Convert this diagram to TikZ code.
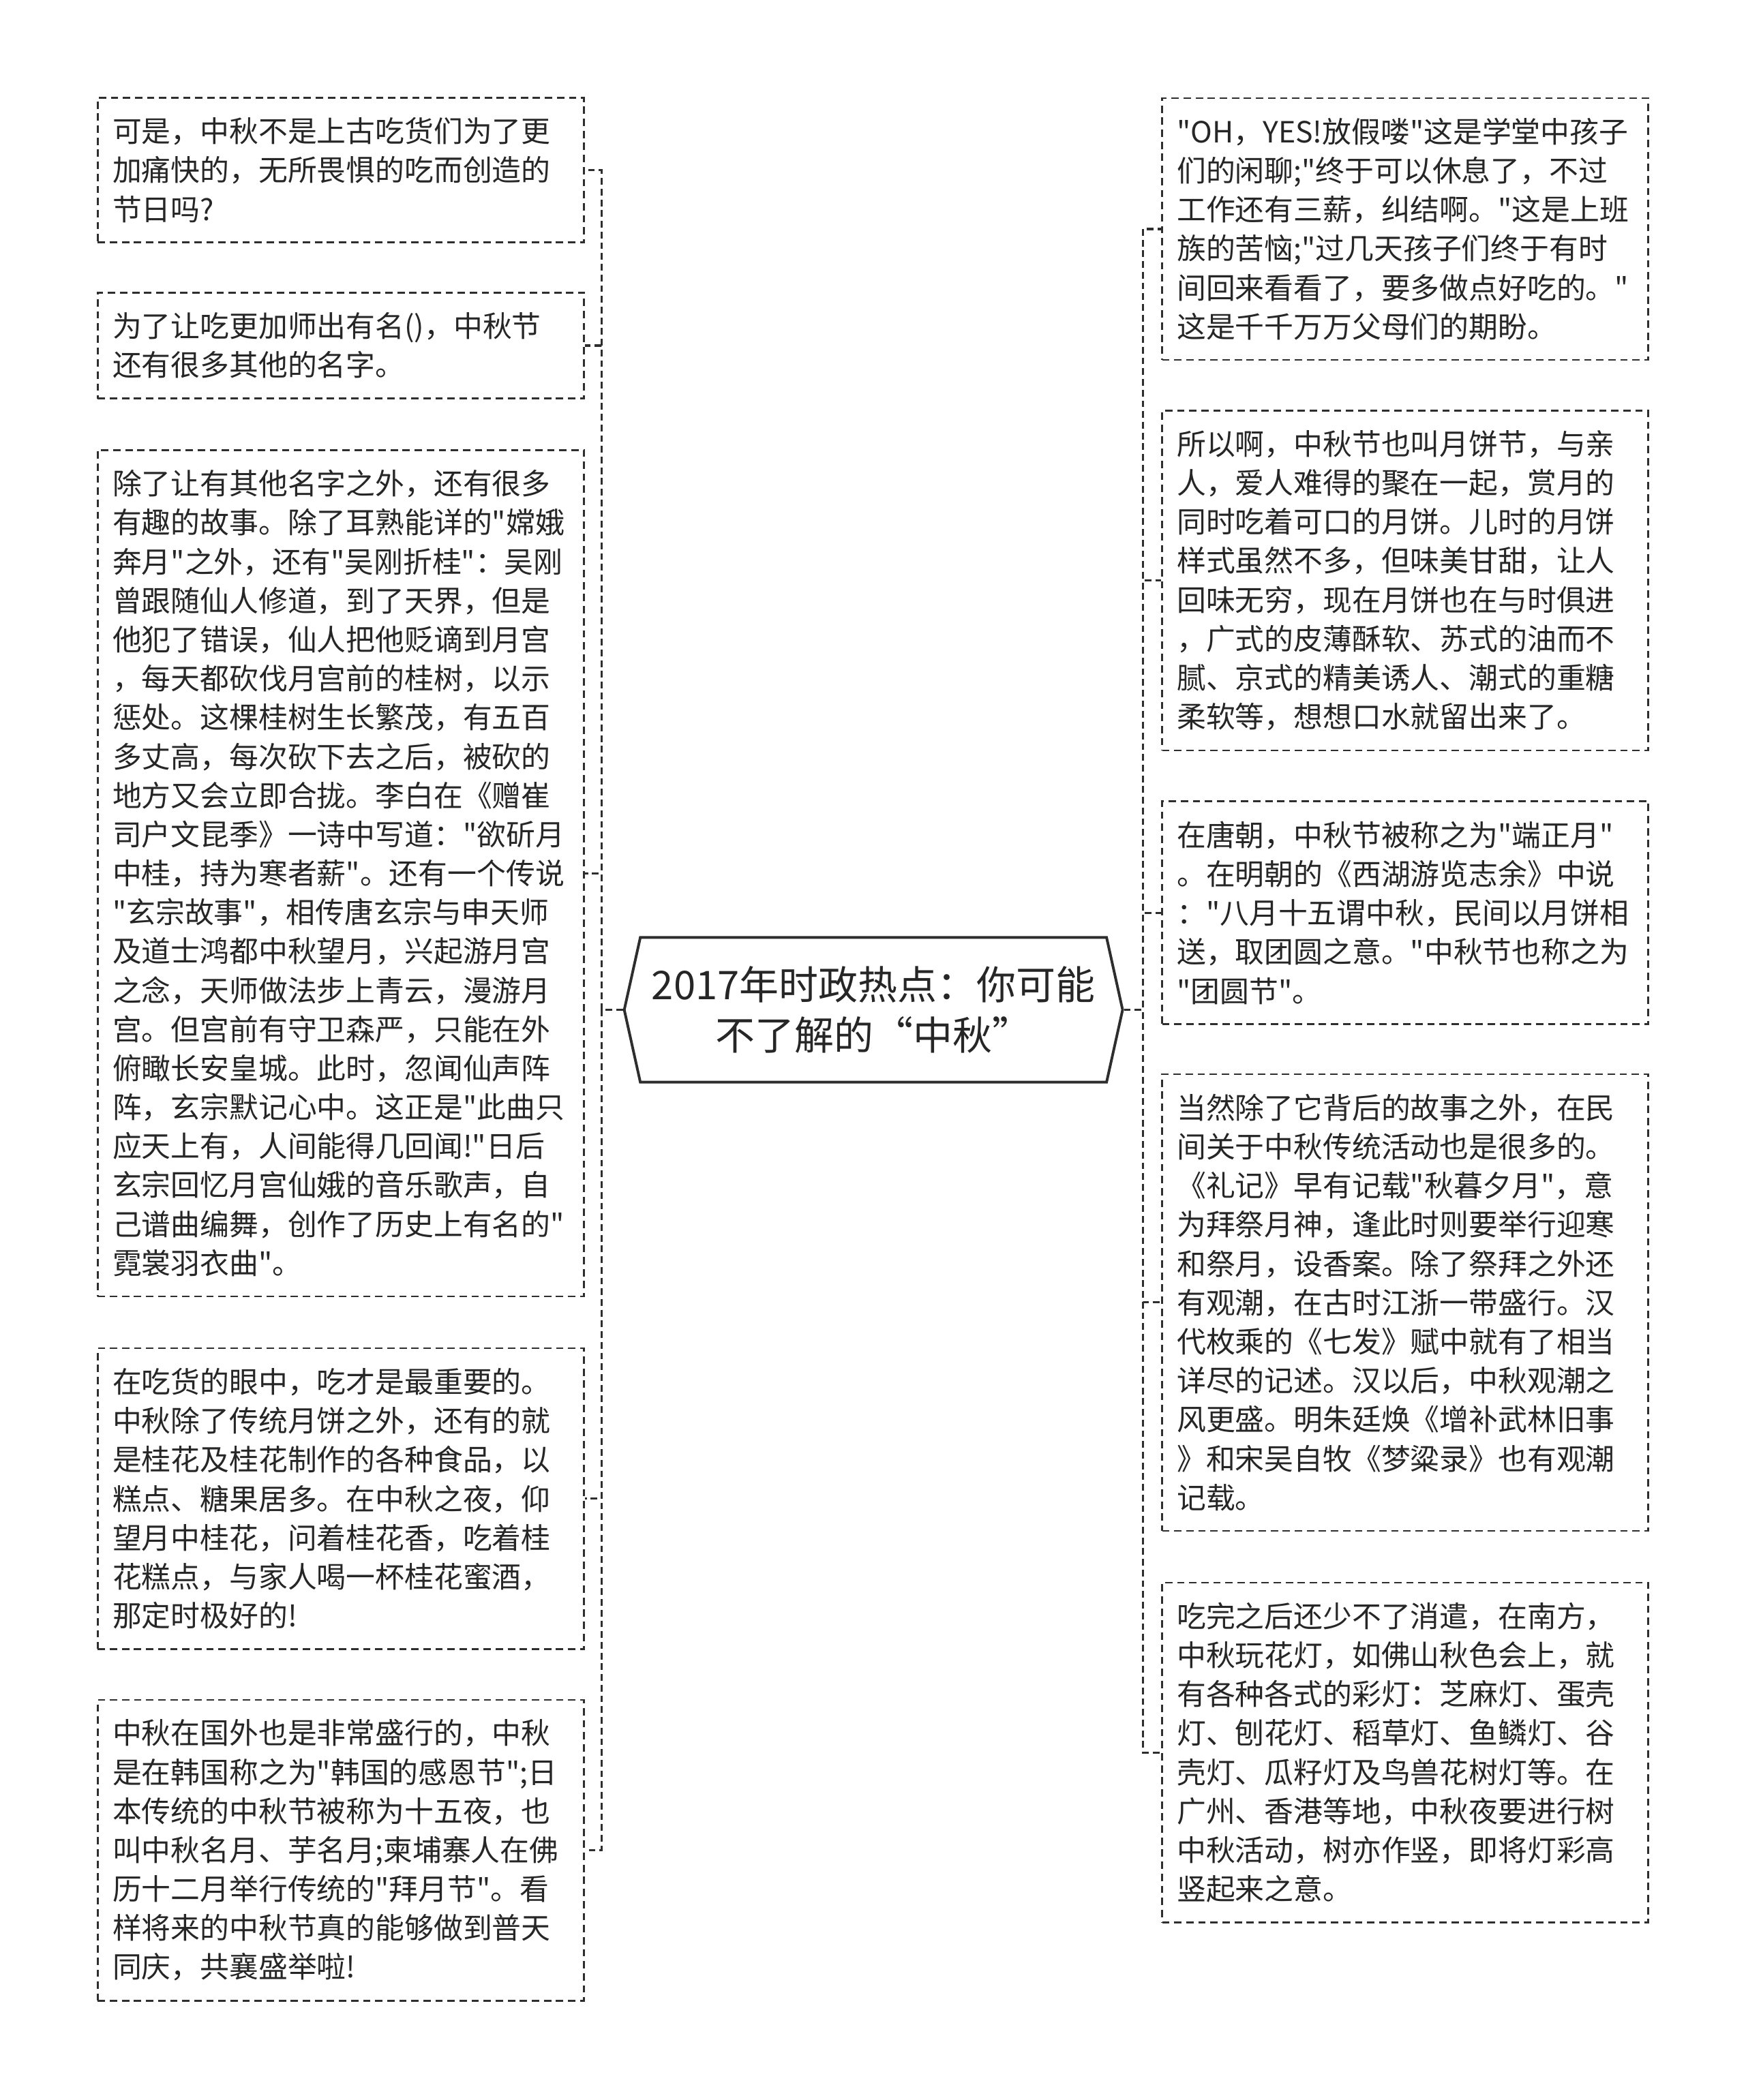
\documentclass[tikz,border=0pt]{standalone}
\usepackage{fontspec}
\setmainfont{Noto Sans CJK SC}[Ligatures=TeXOff]
\usetikzlibrary{shapes.symbols}
\colorlet{inkdark}{black!85}
\colorlet{rulegray}{black!82}
\tikzset{map/leaf/.style={draw=rulegray, line width=1.4pt, dash pattern=on 5.5pt off 3.5pt, text=inkdark,
    text width=341pt, inner xsep=11pt, inner ysep=0pt, minimum width=363pt, align=left,
    font=\fontsize{21.8pt}{29.1pt}\selectfont}}
\tikzset{map/hub/.style={shape=signal, signal to=west and east, signal pointer angle=155, draw=rulegray,
    line width=2pt, text=inkdark, minimum width=372pt, minimum height=108pt, align=center,
    font=\fontsize{29.5pt}{38pt}\selectfont}}
\tikzset{map/link/.style={draw=rulegray, line width=1.6pt, dash pattern=on 5pt off 3pt}}

\begin{document}
\begin{tikzpicture}[x=1pt, y=-1pt]
  \useasboundingbox (0,0) rectangle (1303,1568);
\node[map/hub] (hub) at (652,754) {2017年时政热点：你可能\\不了解的“中秋”};
\node[map/leaf, minimum height=108.2pt] (l1) at (254.5,127) {可是，中秋不是上古吃货们为了更\\加痛快的，无所畏惧的吃而创造的\\节日吗?};
\node[map/leaf, minimum height=79.1pt] (l2) at (254.5,258) {为了让吃更加师出有名()，中秋节\\还有很多其他的名字。};
\node[map/leaf, minimum height=632pt] (l3) at (254.5,652) {除了让有其他名字之外，还有很多\\有趣的故事。除了耳熟能详的"嫦娥\\奔月"之外，还有"吴刚折桂"：吴刚\\曾跟随仙人修道，到了天界，但是\\他犯了错误，仙人把他贬谪到月宫\\，每天都砍伐月宫前的桂树，以示\\惩处。这棵桂树生长繁茂，有五百\\多丈高，每次砍下去之后，被砍的\\地方又会立即合拢。李白在《赠崔\\司户文昆季》一诗中写道："欲斫月\\中桂，持为寒者薪"。还有一个传说\\"玄宗故事"，相传唐玄宗与申天师\\及道士鸿都中秋望月，兴起游月宫\\之念，天师做法步上青云，漫游月\\宫。但宫前有守卫森严，只能在外\\俯瞰长安皇城。此时，忽闻仙声阵\\阵，玄宗默记心中。这正是"此曲只\\应天上有，人间能得几回闻!"日后\\玄宗回忆月宫仙娥的音乐歌声，自\\己谱曲编舞，创作了历史上有名的"\\霓裳羽衣曲"。};
\node[map/leaf, minimum height=224.6pt] (l4) at (254.5,1119) {在吃货的眼中，吃才是最重要的。\\中秋除了传统月饼之外，还有的就\\是桂花及桂花制作的各种食品，以\\糕点、糖果居多。在中秋之夜，仰\\望月中桂花，问着桂花香，吃着桂\\花糕点，与家人喝一杯桂花蜜酒，\\那定时极好的!};
\node[map/leaf, minimum height=224.6pt] (l5) at (254.5,1381.5) {中秋在国外也是非常盛行的，中秋\\是在韩国称之为"韩国的感恩节";日\\本传统的中秋节被称为十五夜，也\\叫中秋名月、芋名月;柬埔寨人在佛\\历十二月举行传统的"拜月节"。看\\样将来的中秋节真的能够做到普天\\同庆，共襄盛举啦!};
\node[map/leaf, minimum height=195.5pt] (r1) at (1049,171) {"OH，YES!放假喽"这是学堂中孩子\\们的闲聊;"终于可以休息了，不过\\工作还有三薪，纠结啊。"这是上班\\族的苦恼;"过几天孩子们终于有时\\间回来看看了，要多做点好吃的。"\\这是千千万万父母们的期盼。};
\node[map/leaf, minimum height=253.7pt] (r2) at (1049,433.5) {所以啊，中秋节也叫月饼节，与亲\\人，爱人难得的聚在一起，赏月的\\同时吃着可口的月饼。儿时的月饼\\样式虽然不多，但味美甘甜，让人\\回味无穷，现在月饼也在与时俱进\\，广式的皮薄酥软、苏式的油而不\\腻、京式的精美诱人、潮式的重糖\\柔软等，想想口水就留出来了。};
\node[map/leaf, minimum height=166.4pt] (r3) at (1049,681.5) {在唐朝，中秋节被称之为"端正月"\\。在明朝的《西湖游览志余》中说\\："八月十五谓中秋，民间以月饼相\\送，取团圆之意。"中秋节也称之为\\"团圆节"。};
\node[map/leaf, minimum height=341pt] (r4) at (1049,972.5) {当然除了它背后的故事之外，在民\\间关于中秋传统活动也是很多的。\\《礼记》早有记载"秋暮夕月"，意\\为拜祭月神，逢此时则要举行迎寒\\和祭月，设香案。除了祭拜之外还\\有观潮，在古时江浙一带盛行。汉\\代枚乘的《七发》赋中就有了相当\\详尽的记述。汉以后，中秋观潮之\\风更盛。明朱廷焕《增补武林旧事\\》和宋吴自牧《梦粱录》也有观潮\\记载。};
\node[map/leaf, minimum height=253.7pt] (r5) at (1049,1308.5) {吃完之后还少不了消遣，在南方，\\中秋玩花灯，如佛山秋色会上，就\\有各种各式的彩灯：芝麻灯、蛋壳\\灯、刨花灯、稻草灯、鱼鳞灯、谷\\壳灯、瓜籽灯及鸟兽花树灯等。在\\广州、香港等地，中秋夜要进行树\\中秋活动，树亦作竖，即将灯彩高\\竖起来之意。};
\draw[map/link] (hub.west) -- ++(-16,0) |- (l1.east);
\draw[map/link] (hub.west) -- ++(-16,0) |- (l2.east);
\draw[map/link] (hub.west) -- ++(-16,0) |- (l3.east);
\draw[map/link] (hub.west) -- ++(-16,0) |- (l4.east);
\draw[map/link] (hub.west) -- ++(-16,0) |- (l5.east);
\draw[map/link] (hub.east) -- ++(14,0) |- (r1.west);
\draw[map/link] (hub.east) -- ++(14,0) |- (r2.west);
\draw[map/link] (hub.east) -- ++(14,0) |- (r3.west);
\draw[map/link] (hub.east) -- ++(14,0) |- (r4.west);
\draw[map/link] (hub.east) -- ++(14,0) |- (r5.west);

\end{tikzpicture}
\end{document}
